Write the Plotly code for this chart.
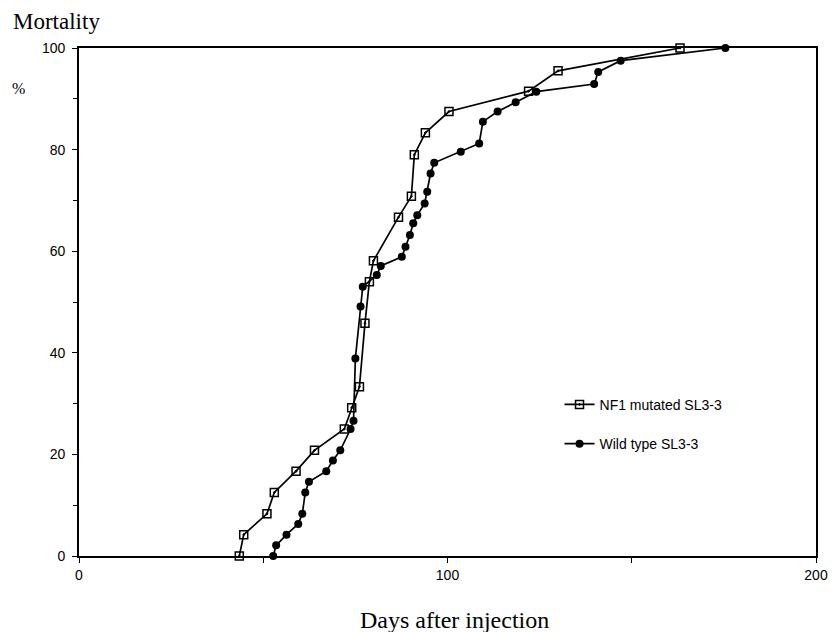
import plotly.graph_objects as go

# NF1 mutated SL3-3 (open squares)
nf1_days = [43.5, 44.7, 51.0, 53.0, 58.9, 63.9, 72.0, 74.0, 76.1, 77.6, 78.8, 79.9,
            86.7, 90.2, 91.0, 94.0, 100.4, 122.0, 130.0, 163.1]
nf1_mort = [0, 4.2, 8.3, 12.5, 16.7, 20.8, 25.0, 29.2, 33.3, 45.8, 54.0, 58.1,
            66.7, 70.8, 79.0, 83.3, 87.5, 91.5, 95.5, 100]

# Wild type SL3-3 (filled circles)
wt_days = [52.7, 53.5, 56.3, 59.5, 60.6, 61.4, 62.4, 67.1, 68.9, 70.9, 73.7, 74.5,
           75.0, 76.4, 77.0, 80.8, 81.9, 87.6, 88.6, 89.8, 90.7, 91.8, 93.8, 94.5,
           95.4, 96.4, 103.6, 108.6, 109.6, 113.6, 118.5, 124.1, 139.8, 140.9, 147.0, 175.4]
wt_mort = [0, 2.1, 4.2, 6.3, 8.3, 12.5, 14.6, 16.7, 18.8, 20.8, 25.0, 26.6,
           38.9, 49.1, 53.0, 55.3, 57.1, 58.9, 60.9, 63.2, 65.5, 67.1, 69.4, 71.7,
           75.3, 77.4, 79.6, 81.2, 85.5, 87.5, 89.3, 91.4, 92.9, 95.3, 97.5, 100]

x_ticks = [0, 100, 200]
y_ticks = [0, 20, 40, 60, 80, 100]

fig = go.Figure()
fig.add_trace(go.Scatter(
    x=nf1_days, y=nf1_mort, mode="lines+markers", name="NF1 mutated SL3-3",
    legendgroup="a",
    line=dict(color="black", width=1.7),
    marker=dict(symbol="square-open-dot", size=8, color="black",
                line=dict(color="black", width=1.5)),
    cliponaxis=False,
))
fig.add_trace(go.Scatter(
    x=wt_days, y=wt_mort, mode="lines+markers", name="Wild type SL3-3",
    legendgroup="b",
    line=dict(color="black", width=1.7),
    marker=dict(symbol="circle", size=8, color="black"),
    cliponaxis=False,
))

serif = "Liberation Serif, Times New Roman, serif"

fig.update_layout(
    width=832, height=624,
    margin=dict(l=71, r=18, t=40, b=76),
    paper_bgcolor="white", plot_bgcolor="white",
    font=dict(family="Liberation Sans, Arial, sans-serif", size=14, color="black"),
    showlegend=True,
    legend=dict(x=0.652, y=0.329, xanchor="left", yanchor="top",
                traceorder="grouped", tracegroupgap=18,
                bgcolor="rgba(0,0,0,0)", font=dict(size=14)),
    xaxis=dict(range=[0, 200], tickvals=x_ticks, ticks="outside", ticklen=5,
               tickwidth=1.2, tickcolor="black", showgrid=False, zeroline=False,
               showline=True, linecolor="black", linewidth=1.8, mirror=True,
               minor=dict(tickvals=[50, 150], ticks="outside", ticklen=5,
                          tickcolor="black", tickwidth=1.2),
               tickfont=dict(size=14)),
    yaxis=dict(range=[0, 100], tickvals=y_ticks, ticks="outside", ticklen=5,
               tickwidth=1.2, tickcolor="black", showgrid=False, zeroline=False,
               showline=True, linecolor="black", linewidth=1.8, mirror=True,
               ticklabelstandoff=4,
               minor=dict(tickvals=[10, 30, 50, 70, 90], ticks="outside", ticklen=4,
                          tickcolor="black", tickwidth=1.2),
               tickfont=dict(size=14)),
    annotations=[
        dict(text="Mortality", xref="paper", yref="paper", x=-0.092, y=1.053,
             xanchor="left", yanchor="middle", showarrow=False,
             font=dict(family=serif, size=23)),
        dict(text="%", xref="paper", yref="paper", x=-0.082, y=0.921,
             xanchor="center", yanchor="middle", showarrow=False,
             font=dict(family=serif, size=16)),
        dict(text="Days after injection", xref="paper", yref="paper", x=0.51, y=-0.126,
             xanchor="center", yanchor="middle", showarrow=False,
             font=dict(family=serif, size=24)),
    ],
)

fig.write_html("out.html")
